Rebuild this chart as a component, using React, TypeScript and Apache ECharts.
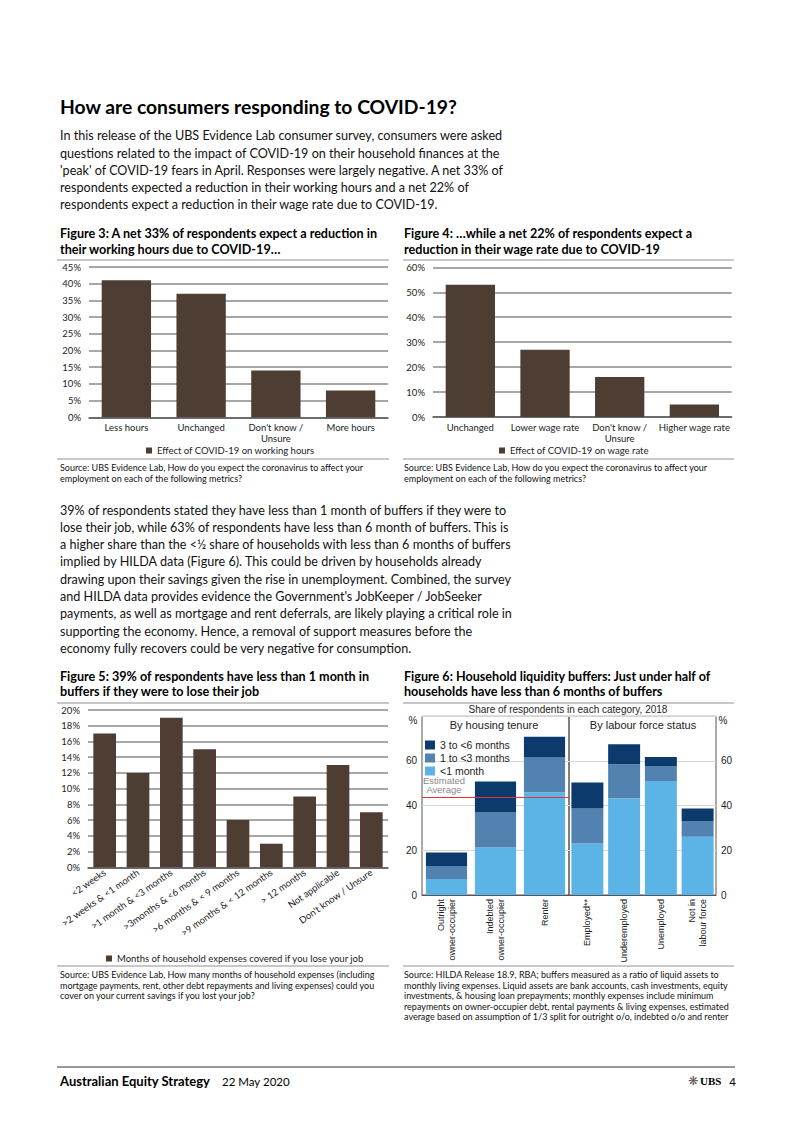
import React, { useEffect, useRef } from 'react';
import * as echarts from 'echarts';

// ---------- DATA ----------
const fig3Categories = ['Less hours', 'Unchanged', "Don't know /\nUnsure", 'More hours'];
const fig3Values = [41, 37, 14, 8];
const fig3SeriesName = 'Effect of COVID-19 on working hours';

const fig4Categories = ['Unchanged', 'Lower wage rate', "Don't know /\nUnsure", 'Higher wage rate'];
const fig4Values = [53, 27, 16, 5];
const fig4SeriesName = 'Effect of COVID-19 on wage rate';

const fig5Categories = [
  '<2 weeks',
  '>2 weeks & <1 month',
  '>1 month & <3 months',
  '>3months & <6 months',
  '>6 months & < 9 months',
  '>9 months & < 12 months',
  '> 12 months',
  'Not applicable',
  "Don't know / Unsure",
];
const fig5Values = [17, 12, 19, 15, 6, 3, 9, 13, 7];
const fig5SeriesName = 'Months of household expenses covered if you lose your job';

const fig6TenureCategories = ['Outright\nowner-occupier', 'Indebted\nowner-occupier', 'Renter'];
const fig6LabourCategories = ['Employed**', 'Underemployed', 'Unemployed', 'Not in\nlabour force'];
const fig6TenureUnder1 = [7.2, 21.3, 46];
const fig6Tenure1to3 = [5.8, 15.6, 15.6];
const fig6Tenure3to6 = [6, 13.9, 9.3];
const fig6LabourUnder1 = [23.1, 43.3, 51, 26.1];
const fig6Labour1to3 = [15.6, 15.2, 6.8, 7];
const fig6Labour3to6 = [11.7, 9, 4, 5.6];
const fig6EstimatedAverage = 43.6;
const fig6Names = ['3 to <6 months', '1 to <3 months', '<1 month'];

// ---------- TEXT ----------
const heading = 'How are consumers responding to COVID-19?';
const para1 = [
  'In this release of the UBS Evidence Lab consumer survey, consumers were asked',
  'questions related to the impact of COVID-19 on their household finances at the',
  "'peak' of COVID-19 fears in April. Responses were largely negative. A net 33% of",
  'respondents expected a reduction in their working hours and a net 22% of',
  'respondents expect a reduction in their wage rate due to COVID-19.',
];
const para2 = [
  '39% of respondents stated they have less than 1 month of buffers if they were to',
  'lose their job, while 63% of respondents have less than 6 month of buffers. This is',
  'a higher share than the <½ share of households with less than 6 months of buffers',
  'implied by HILDA data (Figure 6). This could be driven by households already',
  'drawing upon their savings given the rise in unemployment. Combined, the survey',
  "and HILDA data provides evidence the Government's JobKeeper / JobSeeker",
  'payments, as well as mortgage and rent deferrals, are likely playing a critical role in',
  'supporting the economy. Hence, a removal of support measures before the',
  'economy fully recovers could be very negative for consumption.',
];
const fig3Title = ['Figure 3: A net 33% of respondents expect a reduction in', 'their working hours due to COVID-19…'];
const fig4Title = ['Figure 4: …while a net 22% of respondents expect a', 'reduction in their wage rate due to COVID-19'];
const fig5Title = ['Figure 5: 39% of respondents have less than 1 month in', 'buffers if they were to lose their job'];
const fig6Title = ['Figure 6: Household liquidity buffers: Just under half of', 'households have less than 6 months of buffers'];
const fig34Source = [
  'Source: UBS Evidence Lab, How do you expect the coronavirus to affect your',
  'employment on each of the following metrics?',
];
const fig5Source = [
  'Source: UBS Evidence Lab, How many months of household expenses (including',
  'mortgage payments, rent, other debt repayments and living expenses) could you',
  'cover on your current savings if you lost your job?',
];
const fig6Source = [
  'Source: HILDA Release 18.9, RBA; buffers measured as a ratio of liquid assets to',
  'monthly living expenses. Liquid assets are bank accounts, cash investments, equity',
  'investments, & housing loan prepayments; monthly expenses include minimum',
  'repayments on owner-occupier debt, rental payments & living expenses, estimated',
  'average based on assumption of 1/3 split for outright o/o, indebted o/o and renter',
];

const BROWN = '#4e3d32';
const DARK = '#0c3a6c';
const MID = '#5182b0';
const LIGHT = '#5cb4e6';
const LATO = 'Lato';
const ARIAL = 'Liberation Sans';

function txt(x: number, y: number, text: string, font: string, fill = '#111', align = 'left') {
  return {
    type: 'text',
    x,
    y,
    silent: true,
    style: { text, font, fill, textAlign: align, textVerticalAlign: 'middle' },
  };
}
function hline(x1: number, x2: number, y: number, stroke: string, lineWidth: number) {
  return {
    type: 'line',
    silent: true,
    shape: { x1, y1: y, x2, y2: y },
    style: { stroke, lineWidth },
  };
}
function lines(x: number, y0: number, step: number, arr: string[], font: string, fill = '#111') {
  return arr.map((t, i) => txt(x, y0 + i * step, t, font, fill));
}

function brownYAxis(gridIndex: number, max: number, interval: number) {
  return {
    type: 'value',
    gridIndex,
    min: 0,
    max,
    interval,
    axisLine: { show: false },
    axisTick: { show: false },
    axisLabel: { formatter: '{value}%', fontSize: 9.5, color: '#222', margin: 8, fontFamily: LATO },
    splitLine: { lineStyle: { color: '#8a8a8a', width: 1.5 } },
  };
}
function brownXAxis(gridIndex: number, data: string[], extra: any = {}) {
  return {
    type: 'category',
    gridIndex,
    data,
    axisTick: { show: false },
    axisLine: { lineStyle: { color: '#5a5a5a', width: 1.5 } },
    axisLabel: { fontSize: 9.5, color: '#222', lineHeight: 11, margin: 5, interval: 0, fontFamily: LATO, ...extra },
  };
}

export default function App() {
  const ref = useRef<HTMLDivElement>(null);
  useEffect(() => {
    if (!ref.current) return;
    const chart = echarts.init(ref.current, undefined, { renderer: 'svg' });

    const body = `12.6px ${LATO}`;
    const title = `bold 12.6px ${LATO}`;
    const src = `9px ${LATO}`;

    const graphic: any[] = [
      txt(60, 106.5, heading, `bold 19.3px ${LATO}`, '#000'),
      ...lines(60, 135.7, 17.3, para1, body),
      ...lines(60, 233, 16, fig3Title, title, '#000'),
      ...lines(404, 233, 16, fig4Title, title, '#000'),
      hline(57, 389, 260, '#c8c8c8', 2),
      hline(403, 734, 260, '#c8c8c8', 2),
      hline(57, 389, 459, '#c8c8c8', 2),
      hline(403, 734, 459, '#c8c8c8', 2),
      ...lines(60, 467.5, 10.5, fig34Source, src),
      ...lines(404, 467.5, 10.5, fig34Source, src),
      ...lines(60, 510, 17.3, para2, body),
      ...lines(60, 676, 15.5, fig5Title, title, '#000'),
      ...lines(404, 676, 15.5, fig6Title, title, '#000'),
      hline(57, 389, 703, '#c8c8c8', 2),
      hline(403, 734, 703, '#c8c8c8', 2),
      hline(57, 389, 966, '#c8c8c8', 2),
      hline(403, 734, 966, '#c8c8c8', 2),
      ...lines(60, 974.5, 10.5, fig5Source, src),
      ...lines(404, 974.5, 10.5, fig6Source, src),
      // Figure 6 decorations
      txt(568, 709.5, 'Share of respondents in each category, 2018', `10px ${ARIAL}`, '#222', 'center'),
      txt(413, 720, '%', `10px ${ARIAL}`, '#222', 'center'),
      txt(723, 720, '%', `10px ${ARIAL}`, '#222', 'center'),
      txt(494, 724.5, 'By housing tenure', `11px ${ARIAL}`, '#222', 'center'),
      txt(643, 724.5, 'By labour force status', `11px ${ARIAL}`, '#222', 'center'),
      txt(444, 780.5, 'Estimated', `9.5px ${ARIAL}`, '#8a8a8a', 'center'),
      txt(444, 789.5, 'Average', `9.5px ${ARIAL}`, '#8a8a8a', 'center'),
      // footer
      hline(57, 735, 1067, '#333', 1),
      txt(60, 1081, 'Australian Equity Strategy', `bold 13px ${LATO}`, '#000'),
      txt(222, 1081, '22 May 2020', `11.5px ${LATO}`, '#000'),
      txt(698, 1081, '❋', `12px DejaVu Sans`, '#555', 'right'),
      txt(700, 1081, 'UBS', `bold 11px Liberation Serif`, '#000', 'left'),
      txt(736, 1081, '4', `11.5px ${LATO}`, '#000', 'right'),
    ];

    const fig6YAxis = (gridIndex: number, position: string) => ({
      type: 'value',
      gridIndex,
      position,
      min: 0,
      max: 80,
      interval: 20,
      axisLine: { show: false },
      axisTick: { show: false },
      axisLabel: { fontSize: 10, color: '#222', margin: 5, showMaxLabel: false, fontFamily: ARIAL },
      splitLine: { lineStyle: { color: '#d6d6d6', width: 1 } },
    });
    const fig6XAxis = (gridIndex: number, data: string[]) => ({
      type: 'category',
      gridIndex,
      data,
      axisTick: { show: false },
      axisLine: { lineStyle: { color: '#555', width: 1 } },
      axisLabel: { rotate: 90, fontSize: 9, lineHeight: 11, margin: 4, color: '#222', interval: 0, fontFamily: ARIAL },
    });

    const option: any = {
      animation: false,
      backgroundColor: '#fff',
      textStyle: { fontFamily: LATO },
      grid: [
        { left: 89, top: 267, width: 299, height: 150.3 },
        { left: 433, top: 267.3, width: 298.7, height: 149.7 },
        { left: 88, top: 710, width: 300, height: 157.3 },
        { left: 422, top: 716.3, width: 147, height: 178.7, show: true, borderColor: '#555', borderWidth: 1 },
        { left: 569, top: 716.3, width: 147, height: 178.7, show: true, borderColor: '#555', borderWidth: 1 },
      ],
      xAxis: [
        brownXAxis(0, fig3Categories),
        brownXAxis(1, fig4Categories),
        brownXAxis(2, fig5Categories, { rotate: 35, margin: 4 }),
        fig6XAxis(3, fig6TenureCategories),
        fig6XAxis(4, fig6LabourCategories),
      ],
      yAxis: [
        brownYAxis(0, 45, 5),
        brownYAxis(1, 60, 10),
        brownYAxis(2, 20, 2),
        fig6YAxis(3, 'left'),
        fig6YAxis(4, 'right'),
      ],
      legend: [
        {
          data: [fig3SeriesName], left: 146, top: 445.5, padding: 0, icon: 'rect', itemWidth: 6, itemHeight: 6,
          textStyle: { fontSize: 9.5, color: '#222', fontFamily: LATO },
        },
        {
          data: [fig4SeriesName], left: 499, top: 445.5, padding: 0, icon: 'rect', itemWidth: 6, itemHeight: 6,
          textStyle: { fontSize: 9.5, color: '#222', fontFamily: LATO },
        },
        {
          data: [fig5SeriesName], left: 106, top: 953.5, padding: 0, icon: 'rect', itemWidth: 6, itemHeight: 6,
          textStyle: { fontSize: 9.5, color: '#222', fontFamily: LATO },
        },
        {
          data: fig6Names, left: 425, top: 739.5, padding: 0, orient: 'vertical', icon: 'rect',
          itemWidth: 10, itemHeight: 9, itemGap: 2,
          textStyle: { fontSize: 10.5, color: '#222', fontFamily: ARIAL },
        },
      ],
      series: [
        { type: 'bar', name: fig3SeriesName, xAxisIndex: 0, yAxisIndex: 0, data: fig3Values, barWidth: '66%', itemStyle: { color: BROWN } },
        { type: 'bar', name: fig4SeriesName, xAxisIndex: 1, yAxisIndex: 1, data: fig4Values, barWidth: '66%', itemStyle: { color: BROWN } },
        { type: 'bar', name: fig5SeriesName, xAxisIndex: 2, yAxisIndex: 2, data: fig5Values, barWidth: '68%', itemStyle: { color: BROWN } },
        {
          type: 'bar', name: fig6Names[2], xAxisIndex: 3, yAxisIndex: 3, stack: 'tenure', data: fig6TenureUnder1,
          barCategoryGap: '16%', itemStyle: { color: LIGHT },
          markLine: {
            silent: true, symbol: 'none', label: { show: false },
            lineStyle: { color: '#e3343a', width: 1.2, type: 'solid' },
            data: [{ yAxis: fig6EstimatedAverage }],
          },
        },
        { type: 'bar', name: fig6Names[1], xAxisIndex: 3, yAxisIndex: 3, stack: 'tenure', data: fig6Tenure1to3, barCategoryGap: '16%', itemStyle: { color: MID } },
        { type: 'bar', name: fig6Names[0], xAxisIndex: 3, yAxisIndex: 3, stack: 'tenure', data: fig6Tenure3to6, barCategoryGap: '16%', itemStyle: { color: DARK } },
        { type: 'bar', name: fig6Names[2], xAxisIndex: 4, yAxisIndex: 4, stack: 'labour', data: fig6LabourUnder1, barCategoryGap: '13%', itemStyle: { color: LIGHT } },
        { type: 'bar', name: fig6Names[1], xAxisIndex: 4, yAxisIndex: 4, stack: 'labour', data: fig6Labour1to3, barCategoryGap: '13%', itemStyle: { color: MID } },
        { type: 'bar', name: fig6Names[0], xAxisIndex: 4, yAxisIndex: 4, stack: 'labour', data: fig6Labour3to6, barCategoryGap: '13%', itemStyle: { color: DARK } },
      ],
      graphic,
    };
    chart.setOption(option);
    return () => chart.dispose();
  }, []);

  return (
    <div
      ref={ref}
      style={{ position: 'absolute', left: 0, top: 0, width: 793, height: 1122, background: '#fff' }}
    />
  );
}
